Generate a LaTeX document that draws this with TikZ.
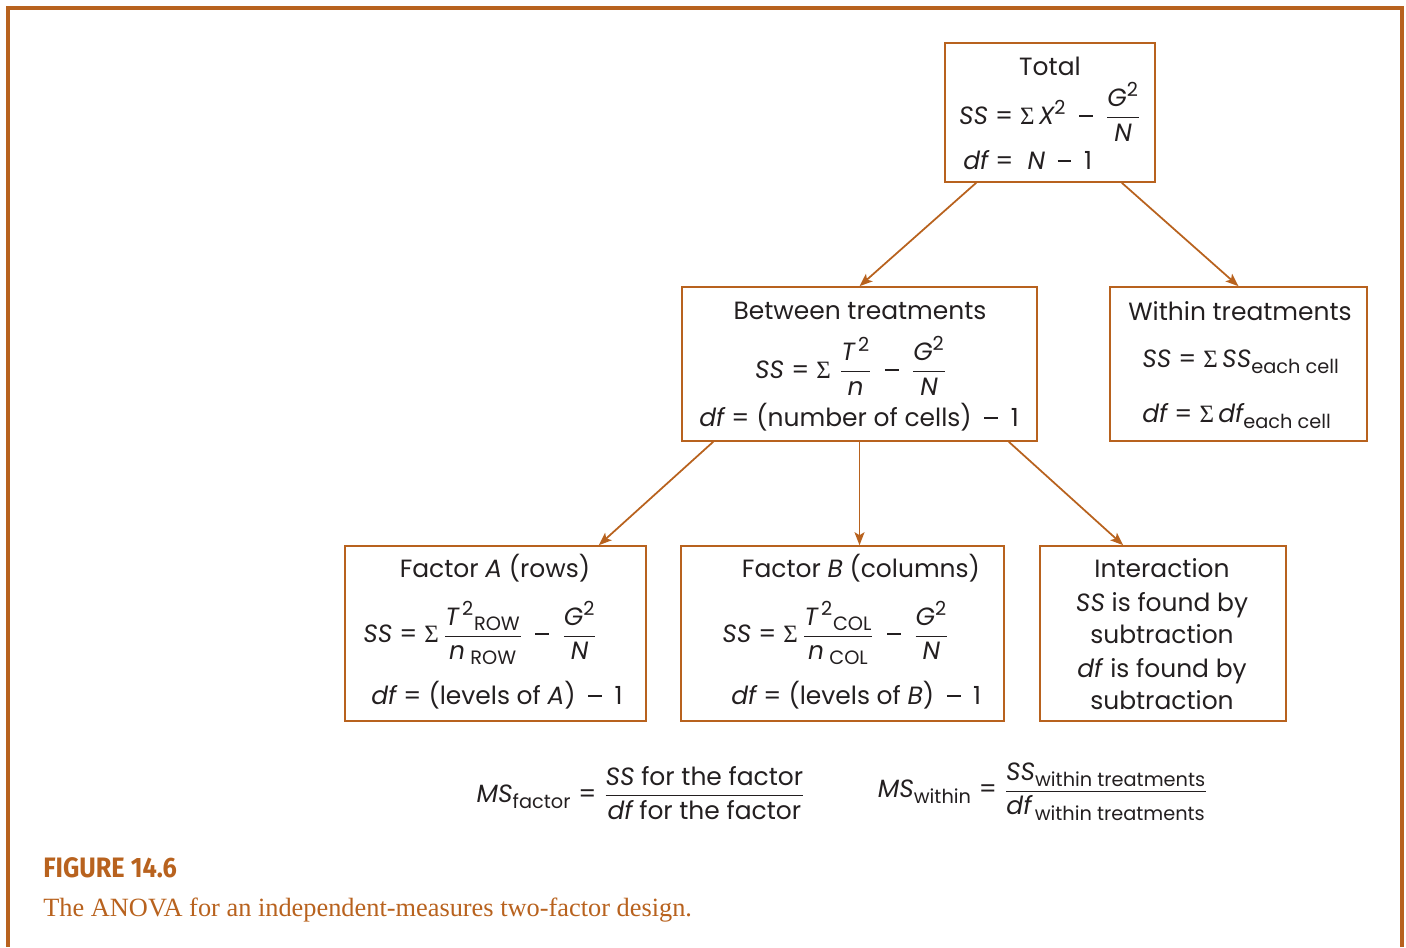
\documentclass[tikz,border=0pt]{standalone}
\usepackage{amsmath}
\usepackage{graphicx}
\usepackage{fontspec}
\setmainfont{Poppins}
\newfontfamily\capserif{Liberation Serif}
\newfontfamily\capsans{Fira Sans}
\usetikzlibrary{arrows.meta,calc,fit}
\DeclareMathSizes{14.2}{14.2}{11}{8}
\definecolor{anovaorange}{RGB}{184,98,30}
\definecolor{ink}{RGB}{35,31,32}
\newcommand{\ssv}{\textit{SS}}
\newcommand{\dfv}{\textit{df}}
\newcommand{\ita}[1]{\textit{#1}}
\newcommand{\meq}{\mathrel{\text{=}}}
\newcommand{\mmin}{\mathbin{\;\rule[0.29em]{0.55em}{0.075em}\;}}
\newcommand{\msum}{\mathop{\text{\capserif Σ}}\nolimits}

\begin{document}
\begin{tikzpicture}[
  x=0.02cm, y=-0.02cm,
  every node/.style={font=\fontsize{14.2}{17}\selectfont, text=ink, inner sep=0pt},
  box/.style={draw=anovaorange, line width=0.9pt, inner sep=0pt},
  flow/.style={draw=anovaorange, line width=1pt, -{Stealth[length=2.6mm,width=2mm,inset=0.6mm]}},
  frame/.style={draw=anovaorange, line width=1.8pt}
]
% Bounding box and open frame.
\useasboundingbox (0,0) rectangle (1406,947);
\draw[frame] (8,947) -- (8,8) -- (1402,8) -- (1402,947);

% The six boxes.
\node[box, fit={(945,43) (1155,182)}] (total) {};
\node[box, fit={(682,287) (1037,441)}] (between) {};
\node[box, fit={(1110,287) (1367,441)}] (within) {};
\node[box, fit={(345,546) (646,721)}] (factA) {};
\node[box, fit={(681,546) (1004,721)}] (factB) {};
\node[box, fit={(1040,546) (1286,721)}] (inter) {};

% Arrows between the boxes.
\draw[flow] ($(total.south west)+(32,0)$) -- (between.north);
\draw[flow] ($(total.south east)+(-34,0)$) -- (within.north);
\draw[flow] ($(between.south west)+(32,0)$) -- ($(factA.north east)+(-48,0)$);
\draw[flow] (between.south) -- (between.south |- factB.north);
\draw[flow] ($(between.south east)+(-29,0)$) -- ($(inter.north west)+(84,0)$);

% Total.
\node at (1050,66) {Total};
\node at (1050,112) {$\ssv \meq \msum\ita{X}^{\text{2}} \mmin \dfrac{\ita{G}^{\text{2}}}{\ita{N}}$};
\node[anchor=west] at (963,160) {$\dfv \meq\; \ita{N} \mmin \text{1}$};

% Between treatments.
\node at (860,311) {Between treatments};
\node at (851,366) {$\ssv \meq \msum\,\dfrac{\ita{T}^{\,\text{2}}}{\ita{n}} \mmin \dfrac{\ita{G}^{\text{2}}}{\ita{N}}$};
\node at (859,417) {$\dfv \meq \text{(number of cells)} \mmin \text{1}$};

% Within treatments.
\node at (1240,311) {Within treatments};
\node[anchor=west] at (1142,362) {$\ssv \meq \msum\ssv_{\text{each cell}}$};
\node[anchor=west] at (1142,416) {$\dfv \meq \msum\dfv_{\text{each cell}}$};

% Factor A.
\node at (495,568) {Factor \ita{A} (rows)};
\node[anchor=west] at (363,633)
  {$\ssv \meq \msum\dfrac{\ita{T}^{\,\text{2}}{}_{\text{ROW}}}{\ita{n}_{\;\text{ROW}}} \mmin \dfrac{\ita{G}^{\text{2}}}{\ita{N}}$};
\node[anchor=west] at (371,695) {$\dfv \meq \text{(levels of \ita{A})} \mmin \text{1}$};

% Factor B.
\node at (861,568) {Factor \ita{B} (columns)};
\node[anchor=west] at (722,633)
  {$\ssv \meq \msum\dfrac{\ita{T}^{\,\text{2}}{}_{\text{COL}}}{\ita{n}_{\;\text{COL}}} \mmin \dfrac{\ita{G}^{\text{2}}}{\ita{N}}$};
\node[anchor=west] at (731,695) {$\dfv \meq \text{(levels of \ita{B})} \mmin \text{1}$};

% Interaction.
\node at (1162,568) {Interaction};
\node at (1162,605) {\ssv\ is found by};
\node at (1162,634) {subtraction};
\node at (1162,671) {\dfv\ is found by};
\node at (1162,700) {subtraction};

% Mean squares.
\node at (641,793)
  {$\textit{MS}_{\text{factor}} \meq \dfrac{\ssv\text{ for the factor}}{\dfv\text{ for the factor}}$};
\node at (1043,792)
  {$\textit{MS}_{\text{within}} \meq \dfrac{\ssv_{\text{within treatments}}}{\dfv_{\,\text{within treatments}}}$};

% Caption.
\node[anchor=west, text=anovaorange, font=\capsans\bfseries\fontsize{16}{18}\selectfont] at (43,868)
  {\scalebox{0.9}[1]{FIGURE 14.6}};
\node[anchor=west, text=anovaorange, font=\capserif\fontsize{15}{18}\selectfont] at (43,910)
  {The ANOVA for an independent-measures two-factor design.};
\end{tikzpicture}
\end{document}
